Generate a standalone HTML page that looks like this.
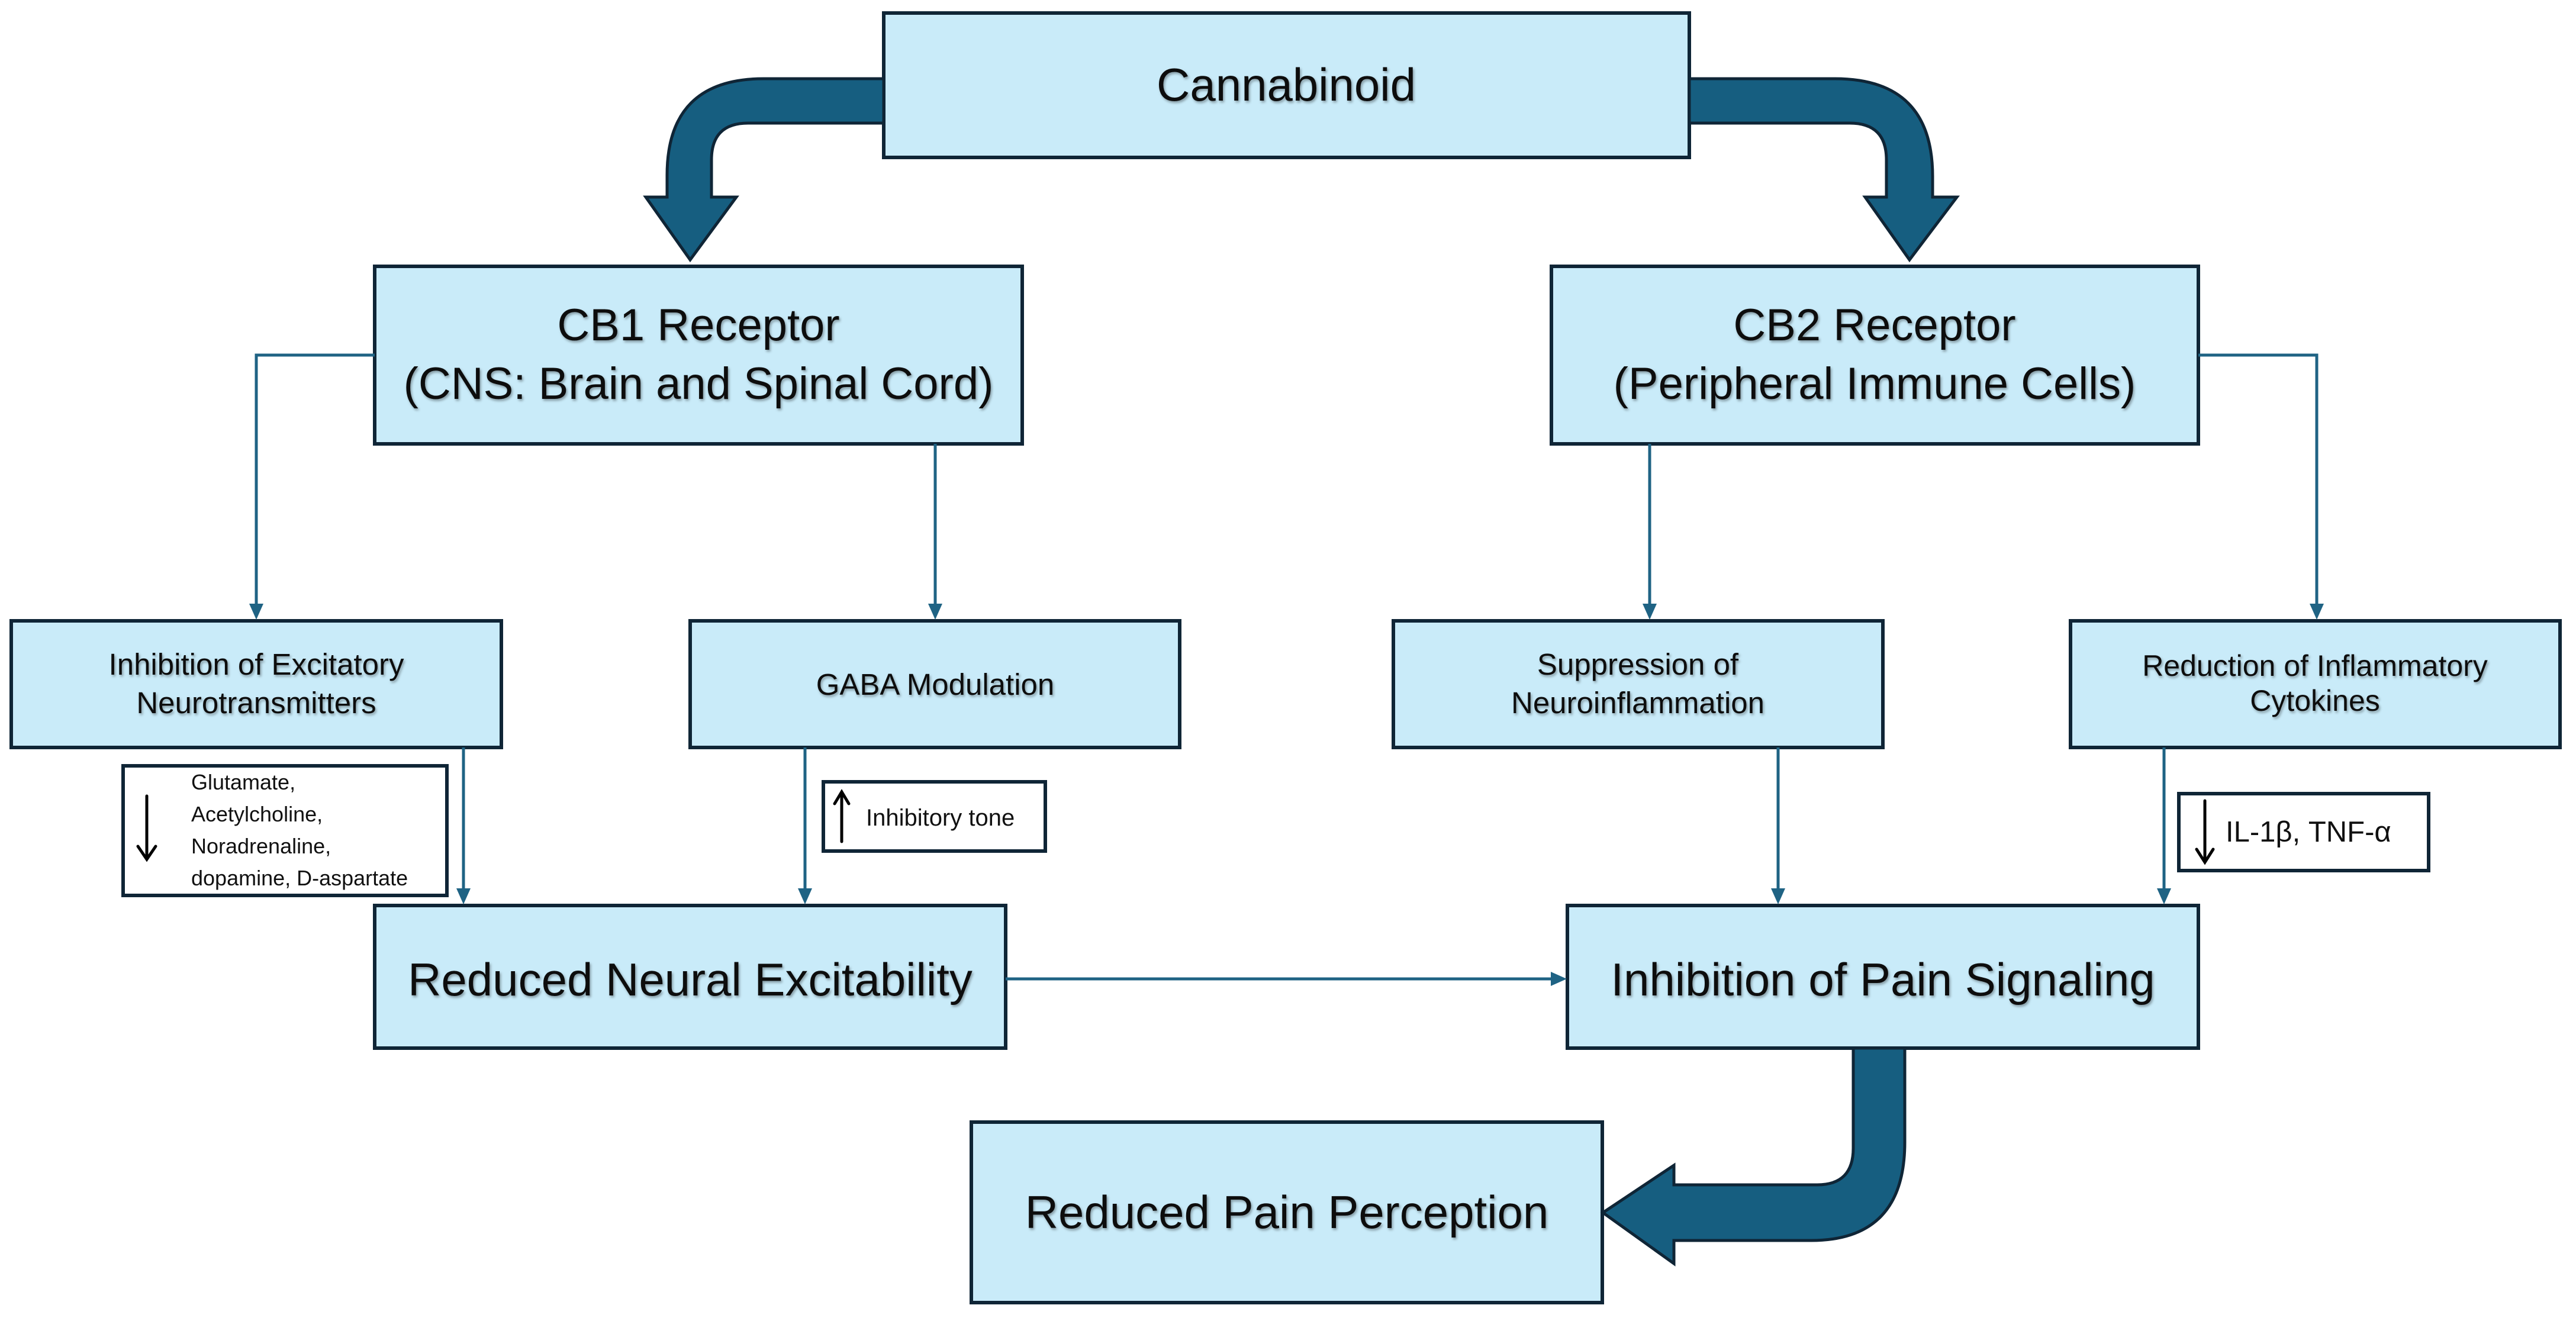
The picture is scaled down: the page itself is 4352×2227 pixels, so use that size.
<!DOCTYPE html>
<html><head><meta charset="utf-8"><style>
html,body{margin:0;padding:0;background:#fff;}
svg{display:block;}
text{font-family:"Liberation Sans",sans-serif;fill:#111;}
</style></head><body>
<svg width="4352" height="2227" viewBox="0 0 4352 2227" xmlns="http://www.w3.org/2000/svg">
<defs>
<filter id="ts" x="-5%" y="-20%" width="110%" height="140%"><feDropShadow dx="2" dy="3" stdDeviation="2" flood-color="#000" flood-opacity="0.35"/></filter>
</defs>
<g fill="#c9ebf9" stroke="#0f2536" stroke-width="6">
<rect x="1493" y="22" width="1361" height="244"/>
<rect x="633" y="450" width="1094" height="300"/>
<rect x="2621" y="450" width="1093" height="300"/>
<rect x="19" y="1049" width="828" height="214"/>
<rect x="1166" y="1049" width="827" height="214"/>
<rect x="2354" y="1049" width="827" height="214"/>
<rect x="3498" y="1049" width="827" height="214"/>
<rect x="633" y="1530" width="1066" height="241"/>
<rect x="2648" y="1530" width="1066" height="241"/>
<rect x="1641" y="1896" width="1066" height="305"/>
</g>
<g fill="#fff" stroke="#0f2536" stroke-width="6">
<rect x="208" y="1294" width="547" height="219"/>
<rect x="1391" y="1321" width="375" height="117"/>
<rect x="3681" y="1341" width="422" height="130"/>
</g>
<g stroke="#1f6384" stroke-width="5" fill="none">
<polyline points="633,600 433,600 433,1022"/>
<line x1="1580" y1="750" x2="1580" y2="1022"/>
<line x1="2787" y1="750" x2="2787" y2="1022"/>
<polyline points="3714,600 3914,600 3914,1022"/>
<line x1="783" y1="1263" x2="783" y2="1503"/>
<line x1="1360" y1="1263" x2="1360" y2="1503"/>
<line x1="3004" y1="1263" x2="3004" y2="1503"/>
<line x1="3656" y1="1263" x2="3656" y2="1503"/>
<line x1="1699" y1="1654" x2="2622" y2="1654"/>
</g>
<g fill="#1f6384">
<polygon points="421,1020 445,1020 433,1047"/>
<polygon points="1568,1020 1592,1020 1580,1047"/>
<polygon points="2775,1020 2799,1020 2787,1047"/>
<polygon points="3902,1020 3926,1020 3914,1047"/>
<polygon points="771,1501 795,1501 783,1528"/>
<polygon points="1348,1501 1372,1501 1360,1528"/>
<polygon points="2992,1501 3016,1501 3004,1528"/>
<polygon points="3644,1501 3668,1501 3656,1528"/>
<polygon points="2620,1642 2620,1666 2647,1654"/>
</g>
<g fill="#165e80" stroke="#0f2536" stroke-width="5" stroke-linejoin="miter">
<path d="M1493,133 L1290,133 Q1127,133 1127,296 L1127,333 L1091,333 L1166,439 L1244,333 L1202,333 L1202,270 Q1202,208 1264,208 L1493,208 Z"/>
<path d="M2854,133 L3100,133 Q3265,133 3265,298 L3265,333 L3306,333 L3226,439 L3151,333 L3187,333 L3187,270 Q3187,208 3125,208 L2854,208 Z"/>
<path d="M3131,1771 L3218,1771 L3218,1930 Q3218,2096 3060,2096 L2828,2096 L2828,2135 L2708,2049 L2828,1969 L2828,2002 L3070,2002 Q3131,2002 3131,1940 Z"/>
</g>
<g text-anchor="middle" filter="url(#ts)">
<text x="2173" y="170" font-size="78">Cannabinoid</text>
<text x="1180" y="575" font-size="76">CB1 Receptor</text>
<text x="1180" y="674" font-size="76">(CNS: Brain and Spinal Cord)</text>
<text x="3167" y="575" font-size="76">CB2 Receptor</text>
<text x="3167" y="674" font-size="76">(Peripheral Immune Cells)</text>
<text x="433" y="1140" font-size="51">Inhibition of Excitatory</text>
<text x="433" y="1205" font-size="51">Neurotransmitters</text>
<text x="1580" y="1174" font-size="51">GABA Modulation</text>
<text x="2767" y="1140" font-size="51">Suppression of</text>
<text x="2767" y="1205" font-size="51">Neuroinflammation</text>
<text x="3911" y="1142" font-size="50">Reduction of Inflammatory</text>
<text x="3911" y="1201" font-size="50">Cytokines</text>
<text x="1166" y="1682" font-size="78">Reduced Neural Excitability</text>
<text x="3181" y="1682" font-size="78">Inhibition of Pain Signaling</text>
<text x="2174" y="2075" font-size="78">Reduced Pain Perception</text>
</g>
<g font-size="36">
<text x="323" y="1334">Glutamate,</text>
<text x="323" y="1388">Acetylcholine,</text>
<text x="323" y="1442">Noradrenaline,</text>
<text x="323" y="1496">dopamine, D-aspartate</text>
<text x="1463" y="1395" font-size="40">Inhibitory tone</text>
<text x="3760" y="1422" font-size="49">IL-1β, TNF-α</text>
</g>
<g stroke="#000" stroke-width="5" fill="none" stroke-linecap="round">
<line x1="248" y1="1345" x2="248" y2="1450"/><polyline points="233,1430 248,1452 263,1430"/>
<line x1="1422" y1="1422" x2="1422" y2="1340"/><polyline points="1410,1358 1422,1338 1434,1358"/>
<line x1="3725" y1="1353" x2="3725" y2="1455"/><polyline points="3711,1435 3725,1457 3739,1435"/>
</g>
</svg>
</body></html>
